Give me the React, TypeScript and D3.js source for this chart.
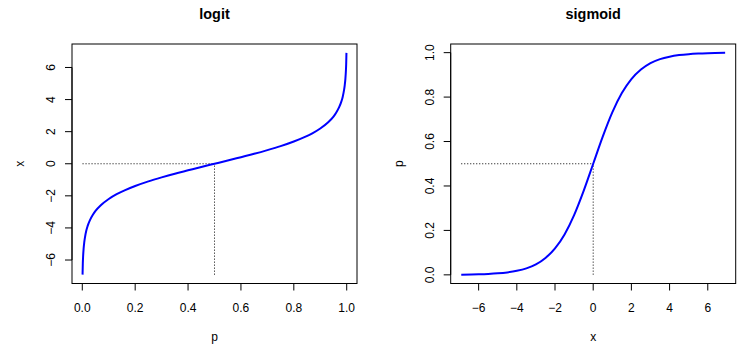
import React from "react";
import * as d3 from "d3";

// logit panel: p -> x
const logitP = [0.001, 0.002, 0.003, 0.005, 0.0075, 0.01, 0.015, 0.02, 0.03, 0.04, 0.05, 0.07, 0.1, 0.13, 0.16, 0.2, 0.25, 0.3, 0.35, 0.4, 0.45, 0.5,
  0.55, 0.6, 0.65, 0.7, 0.75, 0.8, 0.84, 0.87, 0.9, 0.93, 0.95, 0.96, 0.97, 0.98, 0.985, 0.99, 0.9925, 0.995, 0.997, 0.998, 0.999];
const logitX = [-6.91, -6.21, -5.81, -5.29, -4.89, -4.6, -4.18, -3.89, -3.48, -3.18, -2.94, -2.59, -2.2, -1.9, -1.66, -1.39, -1.1, -0.85, -0.62, -0.41, -0.2, 0,
  0.2, 0.41, 0.62, 0.85, 1.1, 1.39, 1.66, 1.9, 2.2, 2.59, 2.94, 3.18, 3.48, 3.89, 4.18, 4.6, 4.89, 5.29, 5.81, 6.21, 6.91];

// sigmoid panel: x -> p
const sigX = [-6.91, -6, -5.5, -5, -4.5, -4, -3.5, -3, -2.5, -2, -1.5, -1, -0.5, 0, 0.5, 1, 1.5, 2, 2.5, 3, 3.5, 4, 4.5, 5, 5.5, 6, 6.91];
const sigP = [0.001, 0.0025, 0.0041, 0.0067, 0.011, 0.018, 0.029, 0.047, 0.076, 0.119, 0.182, 0.269, 0.378, 0.5, 0.622, 0.731, 0.818, 0.881, 0.924, 0.953, 0.971, 0.982, 0.989, 0.9933, 0.9959, 0.9975, 0.999];

const pTicks = [0, 0.2, 0.4, 0.6, 0.8, 1.0];
const xTicks = [-6, -4, -2, 0, 2, 4, 6];

const FONT = "'Liberation Sans', Arial, Helvetica, sans-serif";
const fmtP = (v: number) => v.toFixed(1);
const fmtX = (v: number) => (v < 0 ? "\u2212" + Math.abs(v) : String(v));

type PanelProps = {
  ox: number;
  title: string;
  xs: number[];
  ys: number[];
  xDomain: [number, number];
  yDomain: [number, number];
  xTickVals: number[];
  yTickVals: number[];
  xFmt: (v: number) => string;
  yFmt: (v: number) => string;
  xLabel: string;
  yLabel: string;
  refX: number;
  refY: number;
};

function ext(d: [number, number]): [number, number] {
  const r = d[1] - d[0];
  return [d[0] - 0.04 * r, d[1] + 0.04 * r];
}

function Panel(props: PanelProps) {
  const { ox, title, xs, ys, xDomain, yDomain, xTickVals, yTickVals, xFmt, yFmt, xLabel, yLabel, refX, refY } = props;
  const left = ox + 72, right = ox + 357, top = 44, bottom = 283.5;
  const x = d3.scaleLinear().domain(ext(xDomain)).range([left, right]);
  const y = d3.scaleLinear().domain(ext(yDomain)).range([bottom, top]);
  const pts = xs.map((v, i) => [v, ys[i]] as [number, number]);
  const line = d3.line<[number, number]>().x(d => x(d[0])).y(d => y(d[1])).curve(d3.curveMonotoneX);
  const cx = (left + right) / 2;
  const cy = (top + bottom) / 2;
  return (
    <g fontFamily={FONT} fill="#000">
      <text x={cx} y={19} textAnchor="middle" fontWeight="bold" fontSize={14.4}>{title}</text>
      {/* dotted reference lines */}
      <line x1={x(xDomain[0])} x2={x(refX)} y1={y(refY)} y2={y(refY)} stroke="#000" strokeWidth={1} strokeDasharray="1,2" />
      <line x1={x(refX)} x2={x(refX)} y1={y(yDomain[0])} y2={y(refY)} stroke="#000" strokeWidth={1} strokeDasharray="1,2" />
      <path d={line(pts) || ""} fill="none" stroke="#0000ff" strokeWidth={2} />
      <rect x={left} y={top} width={right - left} height={bottom - top} fill="none" stroke="#000" strokeWidth={1} />
      {/* x axis */}
      <line x1={x(xTickVals[0])} x2={x(xTickVals[xTickVals.length - 1])} y1={bottom} y2={bottom} stroke="#000" />
      {xTickVals.map(t => (
        <g key={"x" + t}>
          <line x1={x(t)} x2={x(t)} y1={bottom} y2={bottom + 7} stroke="#000" />
          <text x={x(t)} y={311.5} textAnchor="middle" fontSize={12}>{xFmt(t)}</text>
        </g>
      ))}
      {/* y axis */}
      <line x1={left} x2={left} y1={y(yTickVals[0])} y2={y(yTickVals[yTickVals.length - 1])} stroke="#000" />
      {yTickVals.map(t => (
        <g key={"y" + t}>
          <line x1={left - 7} x2={left} y1={y(t)} y2={y(t)} stroke="#000" />
          <text transform={`translate(${ox + 55},${y(t)}) rotate(-90)`} textAnchor="middle" fontSize={12}>{yFmt(t)}</text>
        </g>
      ))}
      <text x={cx} y={340.5} textAnchor="middle" fontSize={12}>{xLabel}</text>
      <text transform={`translate(${ox + 24},${cy}) rotate(-90)`} textAnchor="middle" fontSize={12}>{yLabel}</text>
    </g>
  );
}

export default function App() {
  return (
    <svg width={737} height={344} style={{ position: "absolute", left: 0, top: 0, background: "#fff" }}>
      <rect x={0} y={0} width={737} height={344} fill="#fff" />
      <Panel ox={0} title="logit" xs={logitP} ys={logitX} xDomain={[0.001, 0.999]} yDomain={[-6.91, 6.91]}
        xTickVals={pTicks} yTickVals={xTicks} xFmt={fmtP} yFmt={fmtX} xLabel="p" yLabel="x" refX={0.5} refY={0} />
      <Panel ox={378.7} title="sigmoid" xs={sigX} ys={sigP} xDomain={[-6.91, 6.91]} yDomain={[0.001, 0.999]}
        xTickVals={xTicks} yTickVals={pTicks} xFmt={fmtX} yFmt={fmtP} xLabel="x" yLabel="p" refX={0} refY={0.5} />
    </svg>
  );
}
